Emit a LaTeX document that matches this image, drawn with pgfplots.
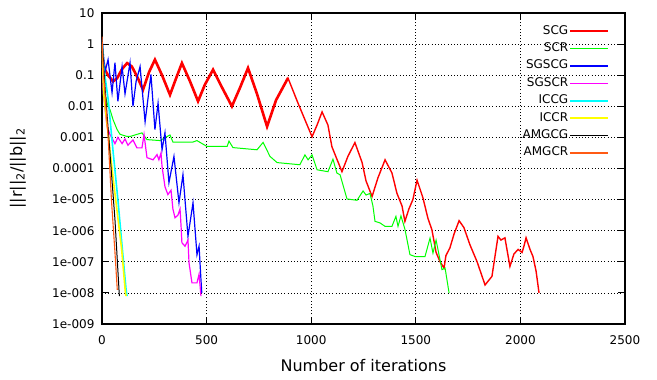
\documentclass[border=0pt]{standalone}
\usepackage{fontspec}
\setmainfont{DejaVu Sans}
\usepackage{pgfplots}
\pgfplotsset{compat=1.18}
\definecolor{cScg}{RGB}{255,0,0}
\definecolor{cScr}{RGB}{0,255,0}
\definecolor{cSgscg}{RGB}{0,0,255}
\definecolor{cSgscr}{RGB}{255,0,255}
\definecolor{cIccg}{RGB}{0,255,255}
\definecolor{cIccr}{RGB}{255,255,0}
\definecolor{cAmgcg}{RGB}{0,0,0}
\definecolor{cAmgcr}{RGB}{255,90,20}
\begin{document}
\begin{tikzpicture}
\useasboundingbox (-102bp,-56bp) rectangle (555bp,324bp);
\begin{axis}[
  at={(0,0)}, anchor=south west,
  scale only axis, width=523bp, height=311bp,
  xmin=0, xmax=2500, ymode=log, ymin=1e-9, ymax=10,
  xtick={0,500,1000,1500,2000,2500},
  xticklabels={0,500,1000,1500,2000,2500},
  ytick={1e-9,1e-8,1e-7,1e-6,1e-5,1e-4,1e-3,1e-2,1e-1,1,10},
  yticklabels={1e-009,1e-008,1e-007,1e-006,1e-005,0.0001,0.001,0.01,0.1,1,10},
  xminorticks=false, yminorticks=false,
  grid=major,
  grid style={black, line width=0.7bp, dash pattern=on 1bp off 2.2bp},
  axis line style={line width=1.2bp},
  major tick length=7bp, tick style={black, line width=1bp},
  tick label style={font=\fontsize{12bp}{14bp}\selectfont},
  xticklabel style={yshift=-8bp},
  yticklabel style={xshift=-4bp},
  xlabel={Number of iterations},
  ylabel={||r||\textsubscript{2}/||b||\textsubscript{2}},
  label style={font=\fontsize{16bp}{18bp}\selectfont},
  xlabel style={at={(axis description cs:0.5,-0.135)}, anchor=center},
  ylabel style={at={(axis description cs:-0.161,0.5)}, anchor=center},
  legend style={at={(1,1)}, anchor=north east, xshift=-13bp, yshift=-9bp,
    draw=none, fill=none, font=\fontsize{12bp}{14bp}\selectfont,
    row sep=3.4bp, nodes={inner sep=1bp, text height=9bp, text depth=3bp}},
  legend plot pos=right, legend cell align=right,
  legend image code/.code={\draw[#1, line width=1.6bp] (4bp,0bp) -- (42bp,0bp);},
]
% SCG
\addplot[cScg, line width=1.4bp] coordinates {
(0,1.0)(5,0.32)(14,0.15)(29,0.1)(53,0.063)(72,0.079)(96,0.158)(120,0.245)
(143,0.19)(172,0.079)(196,0.034)(225,0.126)(253,0.316)(287,0.1)(325,0.0234)
(354,0.079)(382,0.245)(421,0.063)(459,0.0145)(492,0.05)(531,0.151)(574,0.04)
(621,0.01)(660,0.04)(698,0.17)(741,0.025)(789,0.00224)(832,0.0158)(889,0.081)
(937,0.0126)(1004,0.00105)(1028,0.0025)(1052,0.0066)(1080,0.0025)(1099,0.0005)
(1147,7.9e-5)(1176,2.5e-4)(1209,6.8e-4)(1243,1.58e-4)(1262,4.0e-5)(1291,1.26e-5)
(1319,5.0e-5)(1353,1.9e-4)(1386,7.2e-5)(1410,1.58e-5)(1434,6.3e-6)(1448,2.0e-6)
(1467,5.0e-6)(1486,1e-5)(1506,4.2e-5)(1534,1.15e-5)(1558,2.5e-6)(1577,1.07e-6)
(1597,2.0e-7)(1616,1e-7)(1635,6.3e-8)(1644,1.58e-7)(1663,2.8e-7)(1683,7.9e-7)
(1707,2.1e-6)(1730,1.26e-6)(1759,3.5e-7)(1793,1e-7)(1831,1.8e-8)(1864,3.4e-8)
(1893,6.6e-7)(1907,5.0e-7)(1926,5.9e-7)(1950,7.1e-8)(1969,1.78e-7)(1989,2.5e-7)
(2008,2.0e-7)(2017,3.2e-7)(2027,5.9e-7)(2046,2.5e-7)(2060,1.48e-7)(2075,5.0e-8)
(2089,1e-8)};
\addlegendentry{SCG}
% the early, noisy stretch of SCG is drawn heavier
\addplot[cScg, line width=2.6bp, forget plot] coordinates {
(5,0.32)(14,0.15)(29,0.1)(53,0.063)(72,0.079)(96,0.158)(120,0.245)
(143,0.19)(172,0.079)(196,0.034)(225,0.126)(253,0.316)(287,0.1)(325,0.0234)
(354,0.079)(382,0.245)(421,0.063)(459,0.0145)(492,0.05)(531,0.151)(574,0.04)
(621,0.01)(660,0.04)(698,0.17)(741,0.025)(789,0.00224)(832,0.0158)(889,0.081)};
% SCR
\addplot[cScr, line width=1bp] coordinates {
(0,0.5)(14,0.025)(29,0.01)(38,0.0079)(53,0.0037)(72,0.0018)(86,0.00126)
(120,0.00107)(134,0.00107)(191,0.0014)(215,8.5e-4)(277,7.9e-4)(325,0.0012)
(339,7.1e-4)(435,7.1e-4)(454,7.9e-4)(502,5.1e-4)(598,5.1e-4)(607,7.6e-4)
(626,4.7e-4)(741,4.0e-4)(770,6.9e-4)(803,2.45e-4)(837,1.55e-4)(946,1.32e-4)
(970,2.75e-4)(985,1.9e-4)(1004,2.75e-4)(1028,9.1e-5)(1080,7.9e-5)(1104,2.0e-4)
(1123,7.1e-5)(1138,6.3e-5)(1171,1.05e-5)(1219,9.5e-6)(1248,1.9e-5)(1262,1.4e-5)
(1281,1.58e-5)(1295,6.3e-6)(1305,2.0e-6)(1329,1.78e-6)(1353,1.38e-6)(1386,1.38e-6)
(1405,2.9e-6)(1415,1.38e-6)(1429,3.0e-6)(1448,1.12e-6)(1472,1.7e-7)(1496,1.48e-7)
(1544,1.48e-7)(1568,5.8e-7)(1582,1.9e-7)(1597,5.0e-7)(1625,5.6e-8)(1640,6.3e-8)
(1659,1e-8)};
\addlegendentry{SCR}
% SGSCG
\addplot[cSgscg, line width=1.2bp] coordinates {
(0,1.58)(14,0.126)(29,0.316)(48,0.0275)(62,0.251)(76,0.0145)(96,0.19)(110,0.0251)
(134,0.251)(148,0.01)(163,0.063)(182,0.19)(206,0.00316)(234,0.105)(253,0.00178)
(268,0.0126)(287,3.98e-4)(301,0.0014)(320,3.5e-5)(344,2.45e-4)(368,7.9e-6)
(387,6.3e-5)(411,6.6e-7)(435,7.9e-6)(454,1.7e-7)(464,3.2e-7)(473,2.7e-8)(477,1e-8)};
\addlegendentry{SGSCG}
% SGSCR
\addplot[cSgscr, line width=1.2bp] coordinates {
(0,0.5)(6,0.027)(24,0.00224)(38,0.00126)(62,6.3e-4)(76,0.001)(96,6.3e-4)
(110,8.9e-4)(124,5.6e-4)(148,8.3e-4)(167,4.6e-4)(191,4.6e-4)(201,0.00123)
(215,2.24e-4)(244,1.9e-4)(263,2.8e-4)(272,1.9e-4)(282,3.16e-4)(287,1.17e-4)
(301,2.6e-5)(315,1.45e-5)(330,2.0e-5)(339,5.0e-6)(349,2.6e-6)(363,3.16e-6)
(373,5.0e-6)(378,1.38e-6)(382,4.1e-7)(397,3.16e-7)(411,5.0e-7)(416,9.3e-8)
(430,2.1e-8)(454,2.1e-8)(464,4.0e-8)(473,7.9e-9)};
\addlegendentry{SGSCR}
% ICCG
\addplot[cIccg, line width=1.6bp] coordinates {
(0,1.38)(10,0.151)(30,0.0158)(53,3.5e-4)(76,1e-5)(96,3.2e-7)(115,1.3e-8)(120,7.9e-9)};
\addlegendentry{ICCG}
% ICCR
\addplot[cIccr, line width=1.6bp] coordinates {
(0,1.0)(8,0.025)(54,4.4e-5)(94,2.5e-7)(112,1e-8)(115,7.9e-9)};
\addlegendentry{ICCR}
% AMGCG
\addplot[cAmgcg, line width=1bp] coordinates {
(0,1.74)(14,0.044)(38,3.16e-4)(62,2.24e-6)(83,7.9e-9)};
\addlegendentry{AMGCG}
% AMGCR
\addplot[cAmgcr, line width=1.1bp] coordinates {
(0,1.74)(6,0.151)(29,0.00107)(46,7.9e-6)(62,2.0e-7)(73,1.26e-8)};
\addlegendentry{AMGCR}
\end{axis}
\end{tikzpicture}
\end{document}
